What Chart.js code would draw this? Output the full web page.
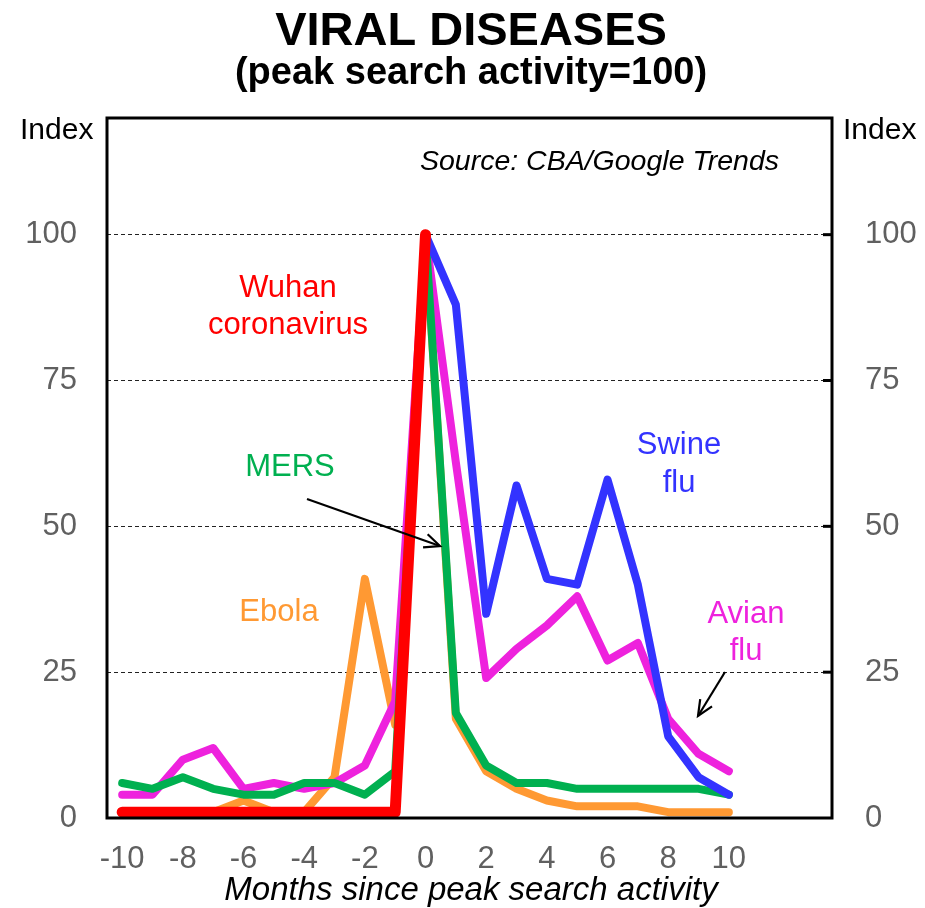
<!DOCTYPE html>
<html><head><meta charset="utf-8">
<script src="https://cdn.jsdelivr.net/npm/chart.js@4/dist/chart.umd.min.js"></script>
<style>html,body{margin:0;padding:0;background:#fff;}#wrap{position:relative;width:925px;height:908px;}</style>
</head><body><div id="wrap"><canvas id="c" width="925" height="908"></canvas></div>
<script>
// ---- data ----
const months = [-10,-9,-8,-7,-6,-5,-4,-3,-2,-1,0,1,2,3,4,5,6,7,8,9,10];
const wuhanCoronavirus = [1,1,1,1,1,1,1,1,1,1,100,null,null,null,null,null,null,null,null,null,null];
const swineFlu = [null,null,null,null,null,null,null,null,null,null,100,88,35,57,41,40,58,40,14,7,4];
const mers = [6,5,7,5,4,4,6,6,4,8,100,18,9,6,6,5,5,5,5,5,4];
const avianFlu = [4,4,10,12,5,6,5,6,9,20,100,61,24,29,33,38,27,30,17,11,8];
const ebola = [1,1,1,1,3,1,1,7,41,16,100,17,8,5,3,2,2,2,1,1,1];
const xTicks = [-10,-8,-6,-4,-2,0,2,4,6,8,10];
const yTicks = [0,25,50,75,100];

const FONT = '"Liberation Sans", Arial, sans-serif';
const toPts = arr => months.map((m,i)=>({x:m,y:arr[i]}));
const mk = (label, arr, color, w) => ({label, data: toPts(arr), borderColor: color, backgroundColor: color,
  borderWidth: w, pointRadius: 0, borderCapStyle:'round', borderJoinStyle:'round', spanGaps:false, tension:0, yAxisID:'y'});

const overlay = {
  id:'overlay',
  afterDatasetsDraw(chart){
    const {ctx, chartArea:a} = chart;
    ctx.save();
    ctx.strokeStyle='#000'; ctx.lineWidth=3;
    ctx.strokeRect(a.left, a.top, a.right-a.left, a.bottom-a.top);
    const ys = chart.scales.y;
    yTicks.forEach(v=>{ if(v===0) return; const py=ys.getPixelForValue(v);
      ctx.beginPath(); ctx.moveTo(a.right-9,py); ctx.lineTo(a.right,py); ctx.stroke(); });
    ctx.restore();
  },
  afterDraw(chart){
    const {ctx} = chart;
    ctx.save();
    ctx.fillStyle='#fff'; ctx.fillRect(0,868,925,40);
    const txt=(s,x,y,font,color,align)=>{ctx.font=font;ctx.fillStyle=color;ctx.textAlign=align||'center';ctx.textBaseline='alphabetic';ctx.fillText(s,x,y);};
    txt('VIRAL DISEASES',471,45,'bold 47px '+FONT,'#000');
    txt('(peak search activity=100)',471,84,'bold 38px '+FONT,'#000');
    txt('Index',20,139,'30px '+FONT,'#000','left');
    txt('Index',843,139,'30px '+FONT,'#000','left');
    txt('Source: CBA/Google Trends',779,170,'italic 28.5px '+FONT,'#000','right');
    txt('Wuhan',288,297,'31px '+FONT,'#FF0000');
    txt('coronavirus',288,334,'31px '+FONT,'#FF0000');
    txt('MERS',290,476,'31px '+FONT,'#00B050');
    txt('Ebola',279,621,'31px '+FONT,'#FF9933');
    txt('Swine',679,454,'31px '+FONT,'#3333FF');
    txt('flu',679,492,'31px '+FONT,'#3333FF');
    txt('Avian',746,623,'31px '+FONT,'#EE22DD');
    txt('flu',746,660,'31px '+FONT,'#EE22DD');
    txt('Months since peak search activity',471,900,'italic 33px '+FONT,'#000');
    const arrow=(x1,y1,x2,y2)=>{
      ctx.strokeStyle='#000'; ctx.lineWidth=2.2; ctx.lineCap='butt';
      ctx.beginPath(); ctx.moveTo(x1,y1); ctx.lineTo(x2,y2); ctx.stroke();
      const ang=Math.atan2(y2-y1,x2-x1), L=17, sp=0.42;
      ctx.beginPath();
      ctx.moveTo(x2-L*Math.cos(ang-sp), y2-L*Math.sin(ang-sp));
      ctx.lineTo(x2,y2);
      ctx.lineTo(x2-L*Math.cos(ang+sp), y2-L*Math.sin(ang+sp));
      ctx.stroke();
    };
    arrow(307,499,440,546);
    arrow(725,672,698,716);
    ctx.restore();
  }
};

new Chart(document.getElementById('c'), {
  type:'line',
  data:{ datasets:[
    mk('Wuhan coronavirus', wuhanCoronavirus, '#FF0000', 11),
    mk('Swine flu', swineFlu, '#3333FF', 8),
    mk('MERS', mers, '#00B050', 8),
    mk('Avian flu', avianFlu, '#EE22DD', 8),
    mk('Ebola', ebola, '#FF9933', 8)
  ]},
  options:{
    responsive:false, animation:false, devicePixelRatio:1,
    layout:{padding:{top:118,left:0,right:0,bottom:0}},
    plugins:{legend:{display:false}, tooltip:{enabled:false}, title:{display:false}},
    scales:{
      x:{type:'linear', position:'bottom', min:-10.5, max:13.4,
        afterBuildTicks:s=>{s.ticks=xTicks.map(v=>({value:v}));},
        afterFit:s=>{s.height=90;},
        grid:{display:false, drawTicks:false}, border:{display:false},
        ticks:{autoSkip:false, maxRotation:0, padding:23, color:'#606060', font:{family:FONT,size:31}}},
      y:{type:'linear', position:'left', min:0, max:120,
        afterBuildTicks:s=>{s.ticks=yTicks.map(v=>({value:v}));},
        afterFit:s=>{s.width=107;},
        grid:{drawTicks:false, color:ctx=>ctx.tick && ctx.tick.value===0?'rgba(0,0,0,0)':'#222', lineWidth:1},
        border:{display:false, dash:[4,3]},
        ticks:{padding:30, color:'#606060', font:{family:FONT,size:31}}},
      y2:{type:'linear', position:'right', min:0, max:120,
        afterBuildTicks:s=>{s.ticks=yTicks.map(v=>({value:v}));},
        afterFit:s=>{s.width=93;},
        grid:{display:false, drawTicks:false}, border:{display:false},
        ticks:{padding:33, color:'#606060', font:{family:FONT,size:31}}}
    }
  },
  plugins:[overlay]
});
</script></body></html>
